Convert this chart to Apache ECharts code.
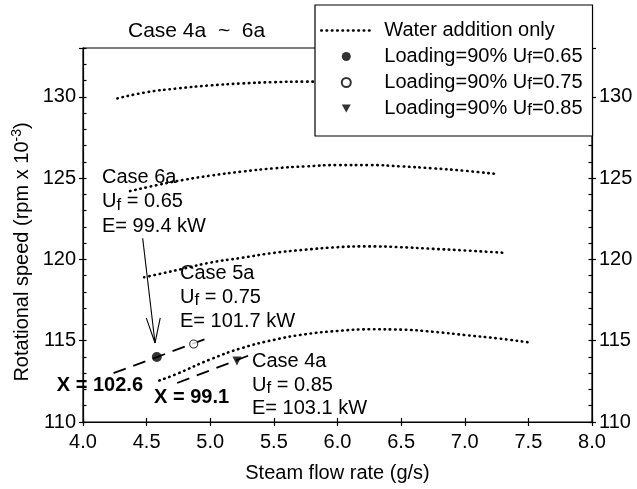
<!DOCTYPE html>
<html><head><meta charset="utf-8">
<script src="https://cdn.jsdelivr.net/npm/echarts@6/dist/echarts.min.js"></script>
<style>html,body{margin:0;padding:0;background:#fff}#c{width:637px;height:489px}</style>
</head><body><div id="c"></div>
<script>
// ---------- data ----------
const seriesNames = ['Water addition only', 'Loading=90% Uf=0.65', 'Loading=90% Uf=0.75', 'Loading=90% Uf=0.85'];

const curve130X = [4.27, 4.5, 4.75, 5.0, 5.25, 5.5, 5.75, 6.0, 6.25, 6.5, 6.75, 7.0, 7.25];
const curve130Y = [129.9, 130.28, 130.52, 130.7, 130.82, 130.9, 130.93, 130.93, 130.9, 130.82, 130.7, 130.55, 130.4];

const curve125X = [4.37, 4.6, 4.8, 5.0, 5.25, 5.5, 5.75, 6.0, 6.25, 6.5, 6.75, 7.0, 7.25];
const curve125Y = [124.2, 124.6, 124.9, 125.15, 125.4, 125.6, 125.72, 125.8, 125.8, 125.72, 125.6, 125.45, 125.25];

const curve120X = [4.48, 4.6, 4.8, 5.0, 5.25, 5.5, 5.75, 6.0, 6.25, 6.5, 6.75, 7.0, 7.32];
const curve120Y = [118.9, 119.1, 119.45, 119.8, 120.1, 120.4, 120.6, 120.75, 120.8, 120.75, 120.65, 120.55, 120.4];

const curve115X = [4.6, 4.75, 5.0, 5.25, 5.5, 5.75, 6.0, 6.25, 6.5, 6.75, 7.0, 7.25, 7.5];
const curve115Y = [112.55, 113.0, 113.85, 114.55, 115.05, 115.4, 115.6, 115.7, 115.68, 115.55, 115.35, 115.15, 114.9];

const uf065Point = [4.58, 114.0];
const uf075Point = [4.87, 114.8];
const uf085Point = [5.21, 113.75];

const lineX1026 = [[4.24, 113.0], [4.96, 115.1]];
const lineX991 = [[4.74, 112.4], [5.34, 114.2]];

const arrowShaft = [[4.469, 121.3], [4.566, 114.86]];
const arrowHead = [[4.497, 116.4], [4.566, 114.86], [4.607, 116.4]];

const xTickValues = [4.0, 4.5, 5.0, 5.5, 6.0, 6.5, 7.0, 7.5, 8.0];
const yTickValues = [110, 115, 120, 125, 130];

// ---------- chart ----------
const FONT = '"Liberation Sans", Arial, sans-serif';
const zip = (xs, ys) => xs.map((x, i) => [x, ys[i]]);
const richSub = { sub: { fontSize: 17, fontFamily: FONT, color: '#000', lineHeight: 14, verticalAlign: 'bottom' } };

const dottedStyle = { color: '#000', width: 2.6, type: [0.5, 4.8], cap: 'round' };
const dashedStyle = { color: '#000', width: 1.8, type: [13, 8] };
// legend icon: small down-pointing triangle centred in a 50x9 box
const downTriangleIcon = 'path://M0,0L0,0M50,9L50,9M20.5,0.5L29.5,0.5L25,8.5Z';

function dottedSeries(data) {
  return { type: 'line', name: seriesNames[0], data, smooth: true, symbol: 'none',
    lineStyle: dottedStyle, itemStyle: { color: '#000' }, silent: true, z: 2 };
}

const xMin = xTickValues[0], xMax = xTickValues[xTickValues.length - 1];
const yMin = yTickValues[0], yMax = 133;

const axisLineStyle = { color: '#000', width: 1.2 };
function xAx(labels, inside) {
  return { type: 'value', position: 'bottom', min: xMin, max: xMax, interval: 0.5,
    axisLine: { show: labels, lineStyle: axisLineStyle },
    axisTick: { show: true, inside: inside, length: 4, lineStyle: axisLineStyle },
    axisLabel: { show: labels, margin: 10, fontSize: 20, fontFamily: FONT, color: '#000',
      formatter: v => v.toFixed(1) },
    splitLine: { show: false },
    name: labels ? 'Steam flow rate (g/s)' : '', nameLocation: 'middle', nameGap: 41,
    nameTextStyle: { fontSize: 20, fontFamily: FONT, color: '#000' } };
}
function yAx(pos, labels, inside, interval, len) {
  return { type: 'value', position: pos, min: yMin, max: yMax, interval: interval,
    axisLine: { show: labels, lineStyle: axisLineStyle },
    axisTick: { show: true, inside: inside, length: len, lineStyle: axisLineStyle },
    axisLabel: { show: labels, margin: 7, fontSize: 20, fontFamily: FONT, color: '#000',
      formatter: v => (yTickValues.indexOf(v) >= 0 ? String(v) : '') },
    splitLine: { show: false } };
}

const chart = echarts.init(document.getElementById('c'), null, { renderer: 'canvas' });
chart.setOption({
  animation: false,
  backgroundColor: '#fff',
  title: { text: 'Case 4a  ~  6a', left: 128, top: 21, padding: 0,
    textStyle: { fontSize: 21, fontWeight: 'normal', fontFamily: FONT, color: '#000' } },
  grid: { left: 83, right: 45, top: 48, bottom: 67, show: true, borderColor: '#000', borderWidth: 1.2, backgroundColor: 'transparent' },
  xAxis: [xAx(true, false), xAx(false, true)],
  yAxis: [yAx('left', true, false, 5, 4), yAx('left', false, true, 1, 3.5),
          yAx('right', true, false, 5, 4), yAx('right', false, true, 1, 3.5)],
  legend: {
    data: [
      { name: seriesNames[0],
        itemStyle: { color: 'rgba(0,0,0,0)', borderColor: 'rgba(0,0,0,0)', borderWidth: 0 },
        lineStyle: { color: '#000', width: 2.6, type: [0.5, 4.8], cap: 'round' } },
      { name: seriesNames[1] },
      { name: seriesNames[2] },
      { name: seriesNames[3], icon: downTriangleIcon, itemStyle: { color: '#000' } }
    ],
    orient: 'vertical', left: 315, top: 5,
    padding: [15, 10, 17, 5], itemGap: 5, itemWidth: 50, itemHeight: 9,
    backgroundColor: '#fff', borderColor: '#000', borderWidth: 1.2, borderRadius: 0,
    selectedMode: false,
    textStyle: { fontSize: 20, fontFamily: FONT, color: '#000', lineHeight: 21, padding: [0, 0, 0, 8], rich: richSub },
    formatter: n => n.replace('Uf', 'U{sub|f}')
  },
  graphic: [
    { type: 'text', x: 22, y: 252, rotation: Math.PI / 2,
      style: { text: 'Rotational speed (rpm x 10{sup|-3})', textAlign: 'center', textVerticalAlign: 'middle',
        fontSize: 20, fontFamily: FONT, fill: '#000', lineHeight: 24,
        rich: { sup: { fontSize: 14, fontFamily: FONT, lineHeight: 14, verticalAlign: 'top' } } } },
    { type: 'text', x: 102, y: 165,
      style: { text: 'Case 6a\nU{sub|f} = 0.65\nE= 99.4 kW', fontSize: 20, fontFamily: FONT, fill: '#000', lineHeight: 24.5, rich: richSub } },
    { type: 'text', x: 180, y: 261,
      style: { text: 'Case 5a\nU{sub|f} = 0.75\nE= 101.7 kW', fontSize: 20, fontFamily: FONT, fill: '#000', lineHeight: 24, rich: richSub } },
    { type: 'text', x: 252, y: 350,
      style: { text: 'Case 4a\nU{sub|f} = 0.85\nE= 103.1 kW', fontSize: 20, fontFamily: FONT, fill: '#000', lineHeight: 23.5, rich: richSub } },
    { type: 'text', x: 143, y: 385,
      style: { text: 'X = 102.6', textAlign: 'right', textVerticalAlign: 'middle', fontSize: 20, fontWeight: 'bold', fontFamily: FONT, fill: '#000' } },
    { type: 'text', x: 154, y: 397,
      style: { text: 'X = 99.1', textAlign: 'left', textVerticalAlign: 'middle', fontSize: 20, fontWeight: 'bold', fontFamily: FONT, fill: '#000' } }
  ],
  series: [
    dottedSeries(zip(curve130X, curve130Y)),
    dottedSeries(zip(curve125X, curve125Y)),
    dottedSeries(zip(curve120X, curve120Y)),
    dottedSeries(zip(curve115X, curve115Y)),
    { type: 'line', name: 'X = 102.6', data: lineX1026, symbol: 'none', lineStyle: dashedStyle, silent: true, z: 2 },
    { type: 'line', name: 'X = 99.1', data: lineX991, symbol: 'none', lineStyle: dashedStyle, silent: true, z: 2 },
    { type: 'line', name: 'arrow', data: arrowShaft, symbol: 'none', lineStyle: { color: '#000', width: 1.1 }, silent: true, z: 2 },
    { type: 'line', name: 'arrowhead', data: arrowHead, symbol: 'none', lineStyle: { color: '#000', width: 1.1 }, silent: true, z: 2 },
    { type: 'scatter', name: seriesNames[1], data: [uf065Point], symbol: 'circle', symbolSize: 10,
      itemStyle: { color: '#000' }, z: 3 },
    { type: 'scatter', name: seriesNames[2], data: [uf075Point], symbol: 'circle', symbolSize: 8,
      itemStyle: { color: '#fff', borderColor: '#000', borderWidth: 1.1 }, z: 3 },
    { type: 'scatter', name: seriesNames[3], data: [uf085Point], symbol: 'triangle', symbolSize: 9, symbolRotate: 180,
      itemStyle: { color: '#000' }, z: 3 }
  ]
});
</script>
</body></html>
